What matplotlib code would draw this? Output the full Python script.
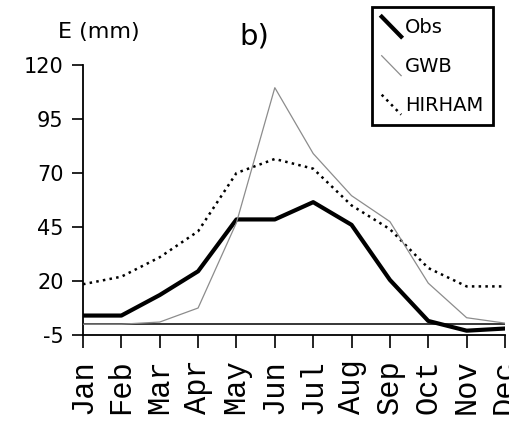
import matplotlib
matplotlib.use('Agg')
import matplotlib.pyplot as plt
from matplotlib.lines import Line2D
from matplotlib.legend_handler import HandlerBase

plt.rcParams['axes.unicode_minus'] = False

# monthly E (mm)
months = ['Jan', 'Feb', 'Mar', 'Apr', 'May', 'Jun', 'Jul', 'Aug', 'Sep', 'Oct', 'Nov', 'Dec']
obs = [4, 4, 13.5, 24.5, 48.5, 48.5, 56.5, 46, 20.5, 1.5, -3, -2]
gwb = [0, 0, 1, 7.5, 47, 109.5, 79, 59.5, 47.5, 19, 3, 0.5]
hirham = [18.5, 22, 31, 43, 70, 76.5, 72, 55, 44, 26, 17.5, 17.5]
yticks = [-5, 20, 45, 70, 95, 120]


class DiagHandler(HandlerBase):
    # legend handles drawn as short diagonal strokes
    def create_artists(self, legend, orig_handle, xdescent, ydescent,
                       width, height, fontsize, trans):
        line = Line2D([-xdescent, -xdescent + width],
                      [-ydescent + height, -ydescent])
        self.update_prop(line, orig_handle, legend)
        line.set_transform(trans)
        return [line]


fig = plt.figure(figsize=(5.1, 4.25), dpi=100)
ax = fig.add_axes([83 / 510, 1 - 335 / 425, 422 / 510, 270 / 425])

x = range(len(months))
ax.axhline(0, color='black', lw=1.1, zorder=1)
l1, = ax.plot(x, obs, color='black', lw=3, label='Obs', zorder=3)
l2, = ax.plot(x, gwb, color='#8c8c8c', lw=0.9, label='GWB', zorder=4)
l3, = ax.plot(x, hirham, color='black', lw=1.8, linestyle=(0, (1, 1.7)),
              label='HIRHAM', zorder=2)

ax.set_xlim(0, len(months) - 1)
ax.set_ylim(-5, 120)
ax.set_xticks(list(x))
ax.set_xticklabels(months, rotation=90, family='Liberation Mono', fontsize=22)
ax.set_yticks(yticks)
ax.tick_params(axis='y', direction='out', length=8, width=1.2, pad=6, labelsize=15)
ax.tick_params(axis='x', direction='out', length=9.5, width=1.2, pad=8)
for s in ['top', 'right']:
    ax.spines[s].set_visible(False)
for s in ['left', 'bottom']:
    ax.spines[s].set_linewidth(1.3)

fig.text(58 / 510, 1 - 38 / 425, 'E (mm)', fontsize=16, ha='left', va='baseline')
fig.text(254 / 510, 1 - 36 / 425, 'b)', fontsize=21, ha='center', va='center')

leg = ax.legend(handles=[l1, l2, l3], labels=['Obs', 'GWB', 'HIRHAM'],
                handler_map={Line2D: DiagHandler()},
                loc='upper right', bbox_to_anchor=(493 / 510, 1 - 7 / 425),
                bbox_transform=fig.transFigure, borderaxespad=0,
                fontsize=14, handlelength=1.0, handleheight=1.2,
                handletextpad=0.2, labelspacing=0.95, borderpad=0.5,
                fancybox=False, framealpha=1, edgecolor='black')
leg.get_frame().set_linewidth(2)

fig.savefig('out.png', dpi=100)
